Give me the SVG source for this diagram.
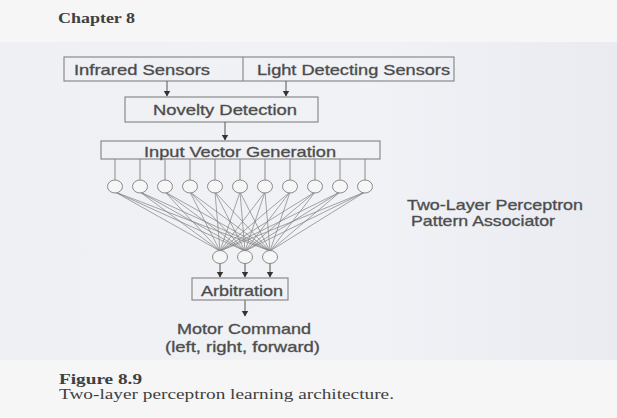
<svg xmlns="http://www.w3.org/2000/svg" width="617" height="418" viewBox="0 0 617 418">
<defs>
<marker id="ah" markerWidth="6" markerHeight="8" refX="5.5" refY="4" orient="auto" markerUnits="userSpaceOnUse">
<path d="M0,0.5 L6,4 L0,7.5 Z" fill="#333"/>
</marker>
<linearGradient id="bg" x1="0" y1="0" x2="1" y2="0">
<stop offset="0" stop-color="#eff0f4"/>
<stop offset="0.6" stop-color="#f1f2f6"/>
<stop offset="1" stop-color="#e9ebf1"/>
</linearGradient>
<style>
.box{fill:none;stroke:#8a8a8a;stroke-width:1.2}
.node{fill:#f6f6f6;stroke:#8a8a8a;stroke-width:1}
.lbl{font-family:"Liberation Sans",Arial,sans-serif;font-size:14.5px;fill:#484848;stroke:#5a5a5a;stroke-width:0.35}
.ser{font-family:"Liberation Serif","Times New Roman",serif;font-size:14.5px;fill:#404040}
.arr{stroke:#555;stroke-width:1;fill:none;marker-end:url(#ah)}
.w{stroke:#808080;stroke-width:0.7;fill:none}
.v{stroke:#8a8a8a;stroke-width:1;fill:none}
</style>
</defs>
<rect width="617" height="418" fill="#f6f6f7"/>
<rect x="0" y="42" width="617" height="318" fill="url(#bg)"/>

<text class="ser" x="58" y="23" font-weight="bold" fill="#555" textLength="77" lengthAdjust="spacingAndGlyphs">Chapter 8</text>

<g id="sensors">
<rect class="box" x="64" y="57" width="390" height="24"/>
<line x1="243" y1="57" x2="243" y2="81" stroke="#8a8a8a" stroke-width="1.2"/>
<text class="lbl" x="74" y="75" textLength="136" lengthAdjust="spacingAndGlyphs">Infrared Sensors</text>
<text class="lbl" x="257" y="75" textLength="193" lengthAdjust="spacingAndGlyphs">Light Detecting Sensors</text>
</g>

<g id="novelty">
<rect class="box" x="125" y="97" width="193" height="25"/>
<text class="lbl" x="153" y="115" textLength="144" lengthAdjust="spacingAndGlyphs">Novelty Detection</text>
</g>

<g id="input-vector">
<rect class="box" x="101" y="141" width="279" height="18"/>
<text class="lbl" x="144" y="157" textLength="192" lengthAdjust="spacingAndGlyphs">Input Vector Generation</text>
</g>

<g id="connectors">
<line class="arr" x1="167" y1="81" x2="167" y2="96"/>
<line class="arr" x1="286" y1="81" x2="286" y2="96"/>
<line class="arr" x1="225" y1="122" x2="225" y2="140"/>
<g id="input-lines">
<line class="v" x1="115" y1="159" x2="115" y2="180"/>
<line class="v" x1="140" y1="159" x2="140" y2="180"/>
<line class="v" x1="165" y1="159" x2="165" y2="180"/>
<line class="v" x1="190" y1="159" x2="190" y2="180"/>
<line class="v" x1="215" y1="159" x2="215" y2="180"/>
<line class="v" x1="240" y1="159" x2="240" y2="180"/>
<line class="v" x1="265" y1="159" x2="265" y2="180"/>
<line class="v" x1="290" y1="159" x2="290" y2="180"/>
<line class="v" x1="315" y1="159" x2="315" y2="180"/>
<line class="v" x1="340" y1="159" x2="340" y2="180"/>
<line class="v" x1="365" y1="159" x2="365" y2="180"/>
</g>
<g id="weights">
<path class="w" d="M115,192 L220,251 M115,192 L245,251 M115,192 L270,251
M140,192 L220,251 M140,192 L245,251 M140,192 L270,251
M165,192 L220,251 M165,192 L245,251 M165,192 L270,251
M190,192 L220,251 M190,192 L245,251 M190,192 L270,251
M215,192 L220,251 M215,192 L245,251 M215,192 L270,251
M240,192 L220,251 M240,192 L245,251 M240,192 L270,251
M265,192 L220,251 M265,192 L245,251 M265,192 L270,251
M290,192 L220,251 M290,192 L245,251 M290,192 L270,251
M315,192 L220,251 M315,192 L245,251 M315,192 L270,251
M340,192 L220,251 M340,192 L245,251 M340,192 L270,251
M365,192 L220,251 M365,192 L245,251 M365,192 L270,251"/>
</g>
<line class="arr" x1="220" y1="263" x2="220" y2="277"/>
<line class="arr" x1="245" y1="263" x2="245" y2="277"/>
<line class="arr" x1="270" y1="263" x2="270" y2="277"/>
<line class="arr" x1="245" y1="300" x2="245" y2="316"/>
</g>

<g id="input-layer">
<ellipse class="node" cx="115" cy="186.5" rx="7.5" ry="6.5"/>
<ellipse class="node" cx="140" cy="186.5" rx="7.5" ry="6.5"/>
<ellipse class="node" cx="165" cy="186.5" rx="7.5" ry="6.5"/>
<ellipse class="node" cx="190" cy="186.5" rx="7.5" ry="6.5"/>
<ellipse class="node" cx="215" cy="186.5" rx="7.5" ry="6.5"/>
<ellipse class="node" cx="240" cy="186.5" rx="7.5" ry="6.5"/>
<ellipse class="node" cx="265" cy="186.5" rx="7.5" ry="6.5"/>
<ellipse class="node" cx="290" cy="186.5" rx="7.5" ry="6.5"/>
<ellipse class="node" cx="315" cy="186.5" rx="7.5" ry="6.5"/>
<ellipse class="node" cx="340" cy="186.5" rx="7.5" ry="6.5"/>
<ellipse class="node" cx="365" cy="186.5" rx="7.5" ry="6.5"/>
</g>

<g id="output-layer">
<ellipse class="node" cx="220" cy="257" rx="7.5" ry="6.5"/>
<ellipse class="node" cx="245" cy="257" rx="7.5" ry="6.5"/>
<ellipse class="node" cx="270" cy="257" rx="7.5" ry="6.5"/>
</g>

<g id="arbitration">
<rect class="box" x="192" y="278" width="96" height="22"/>
<text class="lbl" x="201" y="296" textLength="82" lengthAdjust="spacingAndGlyphs">Arbitration</text>
</g>

<g id="motor-command">
<text class="lbl" x="177" y="334" textLength="134" lengthAdjust="spacingAndGlyphs">Motor Command</text>
<text class="lbl" x="165" y="352" textLength="155" lengthAdjust="spacingAndGlyphs">(left, right, forward)</text>
</g>

<g id="perceptron-label">
<text class="lbl" x="407" y="210" textLength="176" lengthAdjust="spacingAndGlyphs">Two-Layer Perceptron</text>
<text class="lbl" x="411" y="226" textLength="144" lengthAdjust="spacingAndGlyphs">Pattern Associator</text>
</g>

<text class="ser" x="59" y="384" font-weight="bold" textLength="83" lengthAdjust="spacingAndGlyphs">Figure 8.9</text>
<text class="ser" x="59" y="399" textLength="335" lengthAdjust="spacingAndGlyphs">Two-layer perceptron learning architecture.</text>
</svg>
